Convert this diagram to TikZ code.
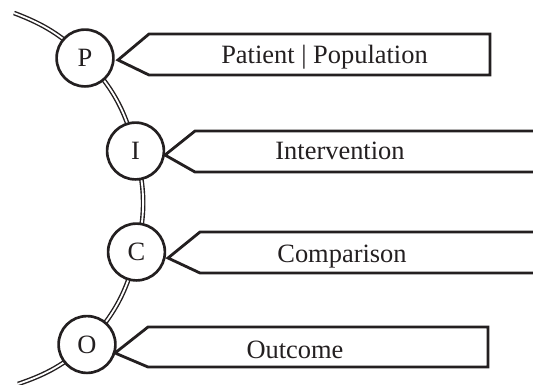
\documentclass[tikz,border=0pt]{standalone}
\usepackage{fontspec}
\setmainfont{Liberation Serif}
\usepackage{tikz}
\usetikzlibrary{positioning}
\definecolor{inkdark}{RGB}{35,31,32}

\begin{document}
\begin{tikzpicture}[x=0.025cm, y=0.025cm,
  letter/.style={draw=inkdark, line width=1.9pt, circle, fill=white, minimum size=1.42cm, inner sep=0pt, text=inkdark, font=\fontsize{18.8}{22}\selectfont},
  tag/.style={draw=inkdark, line width=2pt, line join=miter},
  tagtext/.style={anchor=base, text=inkdark, font=\fontsize{18.8}{22}\selectfont},
  track/.style={draw=inkdark, double=white, line width=1pt, double distance=1.3pt}]
\useasboundingbox (0,0) rectangle (533,-384);

% centres of the four letters
\coordinate (pc) at (85,-58);
\coordinate (ic) at (135.5,-151);
\coordinate (cc) at (136.5,-252);
\coordinate (oc) at (87,-344.5);
\coordinate (top) at (14,-13);
\coordinate (bot) at (18,-384);

\draw[track] (top) to[bend left=11.6] (pc) to[bend left=14.6] (ic) to[bend left=13.9] (cc) to[bend left=14.5] (oc) to[bend left=11] (bot);

\node[letter] (p) at (pc) {P};
\node[letter] (i) at (ic) {I};
\node[letter] (c) at (cc) {C};
\node[letter] (o) at (oc) {O};

\draw[tag] (118,-60) -- (149,-34) -- (490,-34) -- (490,-75) -- (149,-75) -- cycle;
\node[tagtext] (ptext) at (324.5,-63) {Patient | Population};

\draw[tag] (533,-131) -- (195,-131) -- (165,-155) -- (195,-172) -- (533,-172);
\node[tagtext] (itext) at (340,-159) {Intervention};

\draw[tag] (533,-232) -- (200,-232) -- (168,-258) -- (200,-273) -- (533,-273);
\node[tagtext] (ctext) at (342,-262) {Comparison};

\draw[tag] (115,-353) -- (148,-327) -- (488,-327) -- (488,-367) -- (148,-367) -- cycle;
\node[tagtext] (otext) at (295,-358) {Outcome};
\end{tikzpicture}
\end{document}
